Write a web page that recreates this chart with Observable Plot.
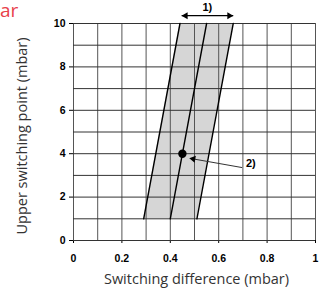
<!DOCTYPE html>
<html>
<head>
<meta charset="utf-8">
<script src="https://cdn.jsdelivr.net/npm/d3@7"></script>
<script src="https://cdn.jsdelivr.net/npm/@observablehq/plot@0.6"></script>
<style>
  html, body { margin: 0; padding: 0; background: #fff; }
  #wrap { position: relative; width: 328px; height: 300px; overflow: hidden; }
  #red { position: absolute; left: 0px; top: 0px; line-height: 20px; font-family: "Open Sans", sans-serif; font-size: 19px; color: #e8414b; }
</style>
</head>
<body>
<div id="wrap"><div id="chart"></div><div id="red">ar</div></div>
<script>
// Tick labels and grid positions
const xTicks = [0, 0.2, 0.4, 0.6, 0.8, 1];
const yTicks = [0, 2, 4, 6, 8, 10];
const xGrid = [0, 0.1, 0.2, 0.3, 0.4, 0.5, 0.6, 0.7, 0.8, 0.9, 1];
const yGrid = [0, 1, 2, 3, 4, 5, 6, 7, 8, 9, 10];

// Switching band (upper switching point vs switching difference)
const bandY     = [1, 10];
const bandLeft  = [0.29, 0.44];
const bandMid   = [0.40, 0.55];
const bandRight = [0.51, 0.66];

// Marked operating point
const pointX = [0.45];
const pointY = [4];

// Annotation 1): double arrow across band width
const ann1Label = "1)";
const ann1X = [0.447, 0.66];
const ann1Y = 10.36;
const ann1LabelPos = [0.553, 10.75];

// Annotation 2): arrow to the point
const ann2Label = "2)";
const ann2From = [0.697, 3.36];
const ann2To = [0.479, 3.79];
const ann2LabelPos = [0.733, 3.53];

const xTitle = "Switching difference (mbar)";
const yTitle = "Upper switching point (mbar)";

const band = bandY.map((y, i) => ({y, left: bandLeft[i], mid: bandMid[i], right: bandRight[i]}));
const edges = ["left", "mid", "right"].flatMap(k => band.map(d => ({k, x: d[k], y: d.y})));

// arrowhead helpers (triangle centroid placed inside tip)
const pxPerX = 242, pxPerY = 21.7, tipOff = 3.9;
function head(tip, from) {
  const dx = (tip[0] - from[0]) * pxPerX, dy = -(tip[1] - from[1]) * pxPerY;
  const len = Math.hypot(dx, dy), ux = dx / len, uy = dy / len;
  const ang = Math.atan2(uy, ux) * 180 / Math.PI;
  return {x: tip[0] - ux * tipOff / pxPerX, y: tip[1] + uy * tipOff / pxPerY, rotate: ang + 90};
}
const heads = [
  head([ann1X[0], ann1Y], [ann1X[1], ann1Y]),
  head([ann1X[1], ann1Y], [ann1X[0], ann1Y]),
  head(ann2To, ann2From)
];

const chart = Plot.plot({
  width: 328,
  height: 300,
  marginLeft: 73,
  marginRight: 13,
  marginTop: 23,
  marginBottom: 60,
  style: {fontFamily: "'Liberation Sans', Arial, sans-serif", fontSize: "10.5px", fontWeight: "bold", color: "#000", background: "transparent"},
  x: {domain: [0, 1], ticks: xTicks, tickFormat: d => String(d), tickSize: 3, tickPadding: 11, label: null},
  y: {domain: [0, 10], ticks: yTicks, tickFormat: d => String(d), tickSize: 4, tickPadding: 4, label: null},
  marks: [
    Plot.areaX(band, {y: "y", x1: "left", x2: "right", fill: "#d6d6d6"}),
    Plot.ruleX(xGrid, {stroke: "#555", strokeWidth: 1}),
    Plot.ruleY(yGrid, {stroke: "#333", strokeWidth: 1}),
    Plot.line(edges, {x: "x", y: "y", z: "k", stroke: "#000", strokeWidth: 1.4}),
    Plot.dot([0], {x: () => pointX[0], y: () => pointY[0], r: 4.2, fill: "#000", stroke: "none"}),
    Plot.link([0], {x1: () => ann1X[0], x2: () => ann1X[1], y1: () => ann1Y, y2: () => ann1Y, stroke: "#000", strokeWidth: 1.2}),
    Plot.link([0], {x1: () => ann2From[0], y1: () => ann2From[1], x2: () => heads[2].x, y2: () => heads[2].y, stroke: "#333", strokeWidth: 1}),
    Plot.dot(heads, {x: "x", y: "y", rotate: "rotate", symbol: "triangle", r: 2.6, fill: "#000", stroke: "none"}),
    Plot.text([ann1Label], {x: ann1LabelPos[0], y: ann1LabelPos[1], text: d => d, fontWeight: "bold", fontSize: 11}),
    Plot.text([ann2Label], {x: ann2LabelPos[0], y: ann2LabelPos[1], text: d => d, fontWeight: "bold", fontSize: 11}),
    Plot.text([xTitle], {frameAnchor: "bottom", dx: 2, dy: 43, textAnchor: "middle", text: d => d, fontFamily: "'Open Sans', sans-serif", fontWeight: "normal", fontSize: 14.5, fill: "#333"}),
    Plot.text([yTitle], {frameAnchor: "left", dx: -51, dy: 4, rotate: -90, textAnchor: "middle", text: d => d, fontFamily: "'Open Sans', sans-serif", fontWeight: "normal", fontSize: 14.5, fill: "#333"})
  ]
});
document.getElementById("chart").appendChild(chart);
</script>
</body>
</html>
